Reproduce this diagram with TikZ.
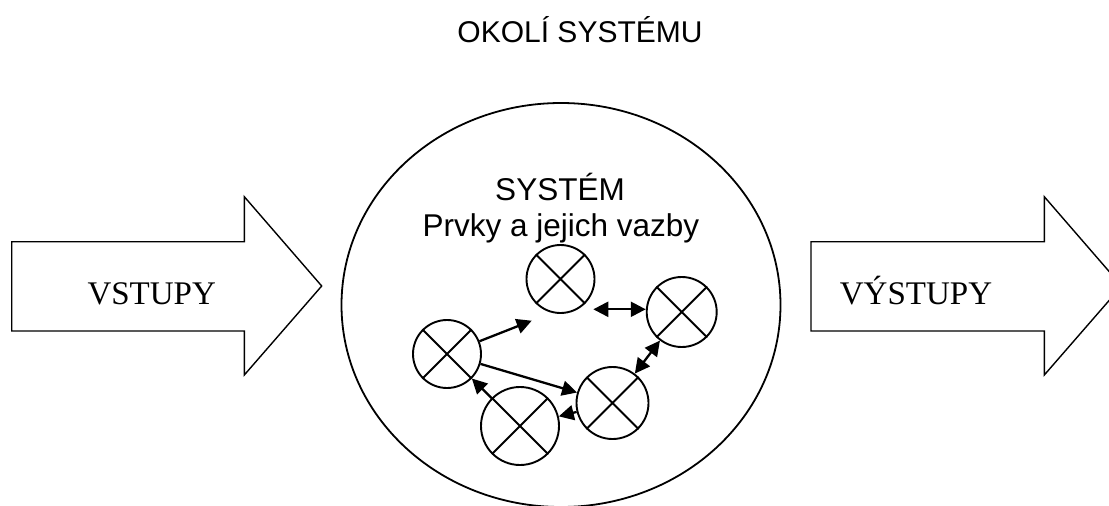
\documentclass[tikz,border=0pt]{standalone}
\usepackage{fontspec}
\setmainfont{Liberation Serif}
\newfontfamily\arialf{Liberation Sans}
\usetikzlibrary{arrows.meta,shapes.geometric}
\tikzset{
  elem/.style={circle,draw,line width=1.9pt,inner sep=0pt},
  blockarrow/.style={draw,line width=1.4pt,line join=miter},
  bigtip/.tip={Triangle[length=15pt 0,width=15pt 0]},
  conn/.style={line width=2.3pt,-bigtip},
  dconn/.style={line width=2.3pt,bigtip-bigtip},
  sanslbl/.style={font=\arialf\fontsize{30}{36}\selectfont,anchor=base},
  syslbl/.style={font=\arialf\fontsize{31.5}{38}\selectfont,anchor=base},
  seriflbl/.style={font=\fontsize{33}{40}\selectfont,anchor=base}
}
\newcommand{\xcross}[1]{\draw[line width=1.9pt] (#1.45) -- (#1.225) (#1.135) -- (#1.315);}
\begin{document}
\begin{tikzpicture}[x=1pt,y=-1pt]
\useasboundingbox (0,0) rectangle (1109,506);
\clip (0,0) rectangle (1109,506);
% title
\node[sanslbl] (okoli) at (580,42.3) {OKOLÍ SYSTÉMU};
% system ellipse
\node[ellipse,draw,line width=1.8pt,minimum width=439pt,minimum height=404pt,inner sep=0pt] (sys) at (561,305) {};
\node[syslbl] (systitle) at (560,200) {SYSTÉM};
\node[syslbl] (syssub) at (561,236.7) {Prvky a jejich vazby};
% block arrows
\draw[blockarrow] (11.7,241.7) -- (244.3,241.7) -- (244.3,196.7) -- (321.7,286) -- (244.3,375) -- (244.3,331) -- (11.7,331) -- cycle;
\node[seriflbl] (vstupy) at (151.7,304) {VSTUPY};
\draw[blockarrow] (811,241.7) -- (1044.3,241.7) -- (1044.3,196.7) -- (1121.7,286) -- (1044.3,375) -- (1044.3,331) -- (811,331) -- cycle;
\node[seriflbl] (vystupy) at (916,304) {VÝSTUPY};
% elements
\node[elem,minimum size=68pt] (T) at (560.5,279) {};
\node[elem,minimum size=70pt] (R) at (681.7,312) {};
\node[elem,minimum size=68pt] (L) at (447,354) {};
\node[elem,minimum size=72pt] (BR) at (612.5,403) {};
\node[elem,minimum size=78pt] (BW) at (520,426) {};
\xcross{T}\xcross{R}\xcross{L}\xcross{BR}\xcross{BW}
% connectors
\coordinate (t1) at (531.7,320.7);
\coordinate (c3) at (593.3,309.3);
\draw[conn] (L) -- (t1);
\draw[conn] (L) -- (BR);
\draw[dconn] (c3) -- (c3 -| R.west);
\draw[dconn] (BR) -- (R);
\draw[conn] (BW) -- (L);
\draw[conn] (BR) -- (BW);
\end{tikzpicture}
\end{document}
